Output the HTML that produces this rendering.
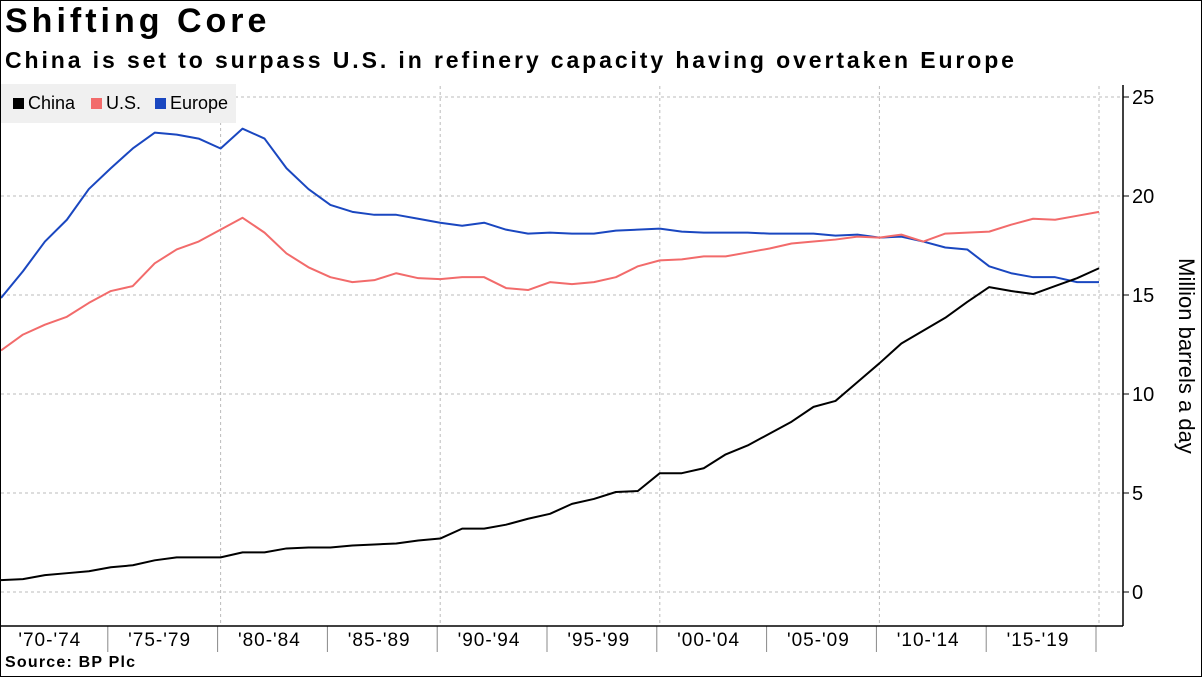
<!DOCTYPE html>
<html><head><meta charset="utf-8"><style>
body{margin:0;background:#fff;font-family:"Liberation Sans",sans-serif;}
#wrap{position:relative;width:1200px;height:675px;border:1px solid #000;overflow:hidden;}
.t{position:absolute;left:4px;font-weight:bold;color:#000;}
</style></head><body>
<div id="wrap">
<div class="t" style="top:1px;font-size:34px;letter-spacing:4px;">Shifting Core</div>
<div class="t" style="top:46px;font-size:23px;letter-spacing:2.9px;">China is set to surpass U.S. in refinery capacity having overtaken Europe</div>
<div class="t" style="top:653px;font-size:16px;letter-spacing:1.2px;">Source: BP Plc</div>
<svg id="chart" width="1202" height="677" style="position:absolute;left:0;top:0"></svg>
</div>
<script>
const years=[];for(let y=1970;y<=2020;y++)years.push(y);
const china=[0.6,0.65,0.85,0.95,1.05,1.25,1.35,1.6,1.75,1.75,1.75,2.0,2.0,2.2,2.25,2.25,2.35,2.4,2.45,2.6,2.7,3.2,3.2,3.4,3.7,3.95,4.45,4.7,5.05,5.1,6.0,6.0,6.25,6.95,7.4,8.0,8.6,9.35,9.65,10.6,11.55,12.55,13.2,13.85,14.65,15.4,15.2,15.05,15.45,15.85,16.35];
const us=[12.2,13.0,13.5,13.9,14.6,15.2,15.45,16.6,17.3,17.7,18.3,18.9,18.15,17.1,16.4,15.9,15.65,15.75,16.1,15.85,15.8,15.9,15.9,15.35,15.25,15.65,15.55,15.65,15.9,16.45,16.75,16.8,16.95,16.95,17.15,17.35,17.6,17.7,17.8,17.95,17.9,18.05,17.7,18.1,18.15,18.2,18.55,18.85,18.8,19.0,19.2];
const europe=[14.85,16.2,17.7,18.8,20.35,21.4,22.4,23.2,23.1,22.9,22.4,23.4,22.9,21.4,20.35,19.55,19.2,19.05,19.05,18.85,18.65,18.5,18.65,18.3,18.1,18.15,18.1,18.1,18.25,18.3,18.35,18.2,18.15,18.15,18.15,18.1,18.1,18.1,18.0,18.05,17.9,17.95,17.7,17.4,17.3,16.45,16.1,15.9,15.9,15.65,15.65];
const yTicks=[0,5,10,15,20,25];
const xLabels=["'70-'74","'75-'79","'80-'84","'85-'89","'90-'94","'95-'99","'00-'04","'05-'09","'10-'14","'15-'19"];
const NS="http://www.w3.org/2000/svg",svg=document.getElementById('chart');
const X=y=>(y-1970)*21.96, Y=v=>591-19.8*v;
function mk(t,a,p){const e=document.createElementNS(NS,t);for(const k in a)e.setAttribute(k,a[k]);(p||svg).appendChild(e);return e;}
yTicks.forEach(v=>{const l=mk('line',{x1:0,x2:1122,y1:Y(v),y2:Y(v),stroke:'#bbb','stroke-dasharray':'3,3'});


mk('line',{x1:1122,x2:1128,y1:Y(v),y2:Y(v),stroke:'#000'});
const t=mk('text',{x:1131,y:Y(v)+7,'font-size':20,fill:'#000'});t.textContent=v;

});
for(let y=1980;y<=2020;y+=10){const l=mk('line',{x1:X(y),x2:X(y),y1:85,y2:625,stroke:'#bbb','stroke-dasharray':'3,3'});

}
xLabels.forEach((s,i)=>{const sx=X(1975+5*i)-3;
mk('line',{x1:sx,x2:sx,y1:625,y2:651,stroke:'#888'});
const t=mk('text',{x:sx-58,y:645,'font-size':19,'text-anchor':'middle',fill:'#000','letter-spacing':1});t.textContent=s;

});
mk('line',{x1:1122,x2:1122,y1:84,y2:625,stroke:'#000','stroke-width':1.5});
mk('line',{x1:0,x2:1122,y1:625,y2:625,stroke:'#000','stroke-width':1.5});
const yt=mk('text',{x:1178,y:355,'font-size':22,'text-anchor':'middle',fill:'#000',transform:'rotate(90 1178 355)'});yt.textContent='Million barrels a day';


[[europe,'#1a47c0','europe-line'],[us,'#f26b6b','us-line'],[china,'#000','china-line']].forEach(([d,c,n])=>{
const p=mk('polyline',{points:d.map((v,i)=>X(years[i])+','+Y(v)).join(' '),fill:'none',stroke:c,'stroke-width':2,'stroke-linejoin':'round'});

});
const lg=mk('g',{});


mk('rect',{x:0,y:83,width:235,height:39,fill:'#f0f0f0'},lg);
[['China','#000',12],['U.S.','#f26b6b',90],['Europe','#1a47c0',154]].forEach(([s,c,x])=>{
mk('rect',{x:x,y:97,width:11,height:11,fill:c},lg);
const t=mk('text',{x:x+15,y:108,'font-size':18,fill:'#000'},lg);t.textContent=s;

});
</script>
</body></html>
